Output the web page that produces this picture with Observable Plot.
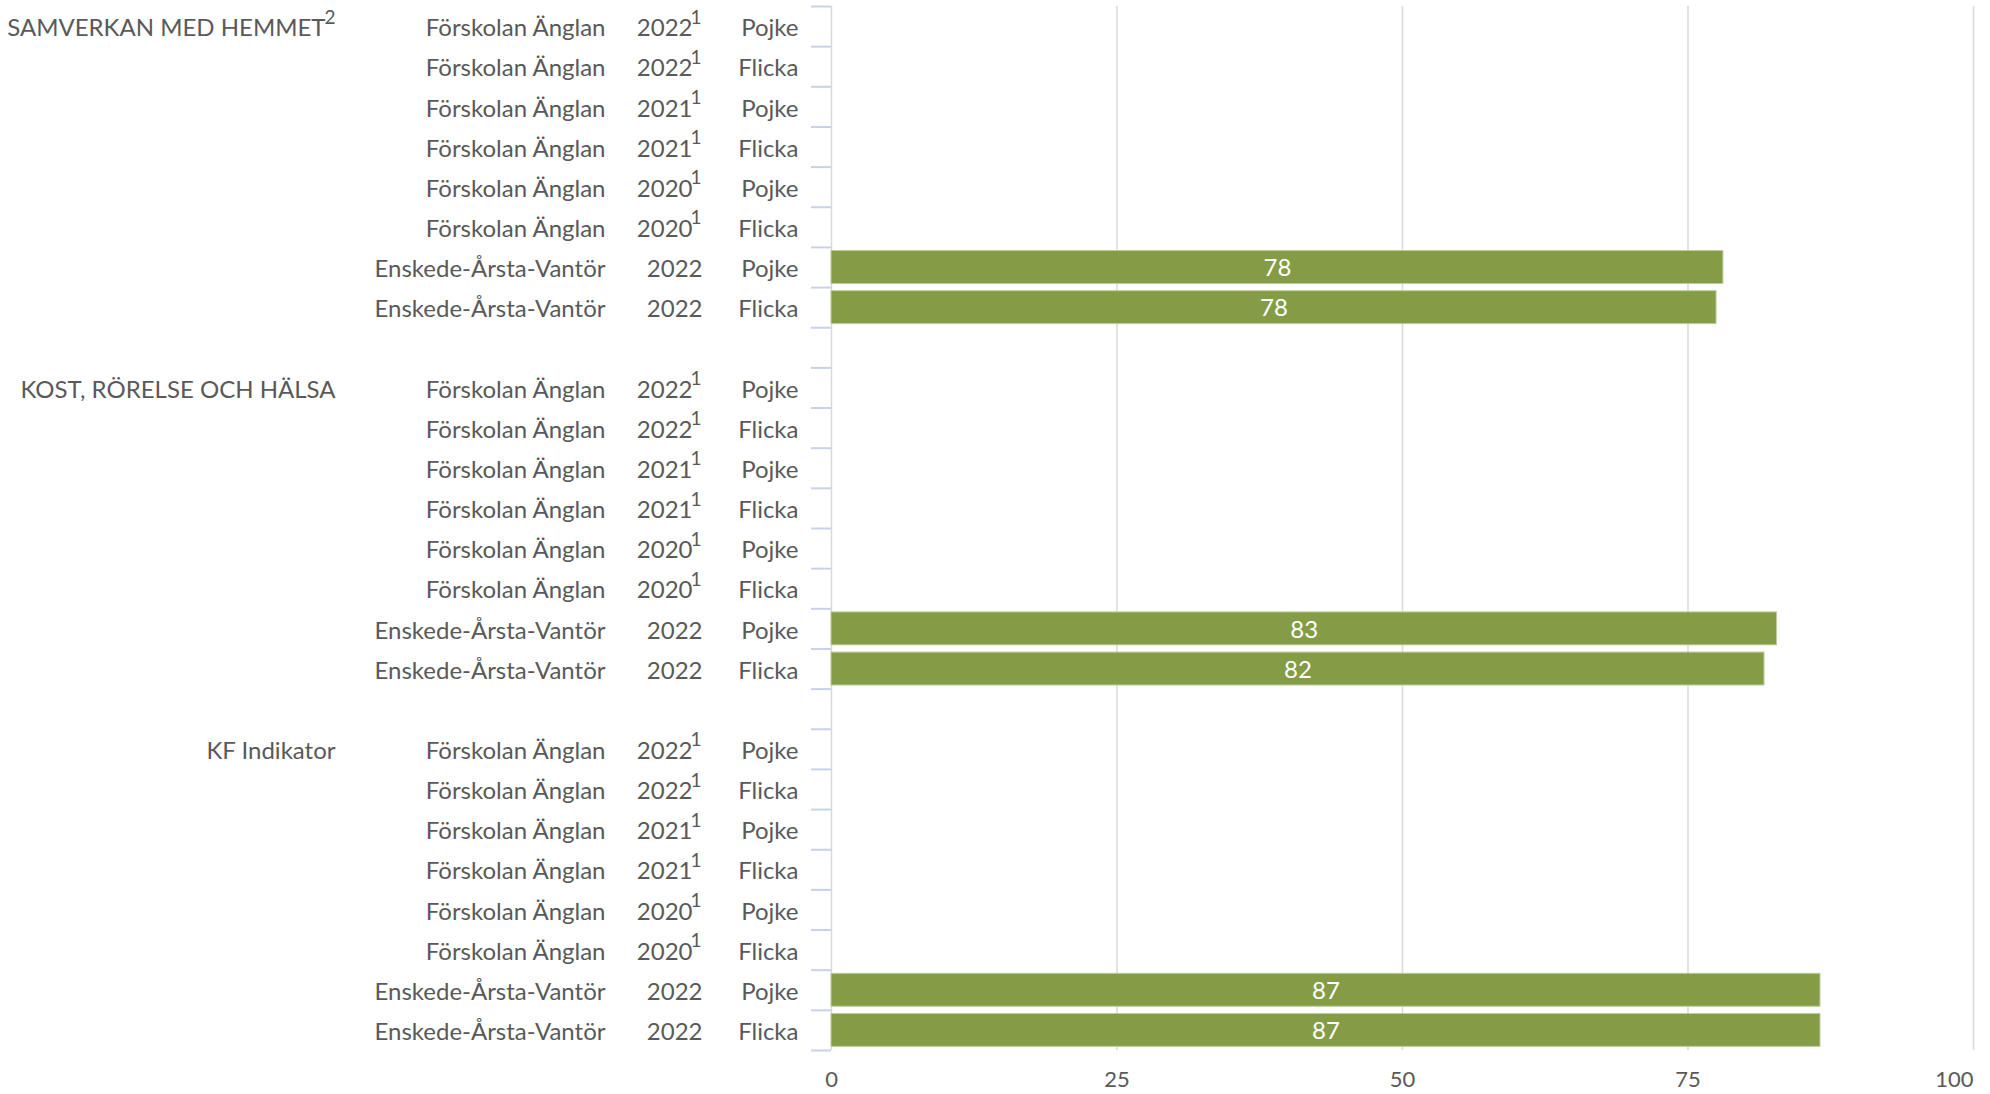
<!DOCTYPE html>
<html><head><meta charset="utf-8">
<script src="https://cdn.jsdelivr.net/npm/d3@7"></script>
<script src="https://cdn.jsdelivr.net/npm/@observablehq/plot@0.6"></script>
<style>html,body{margin:0;padding:0;background:#fff;overflow:hidden}</style>
</head><body><div id="chart"></div>
<script>
// ---- data ----
const groups = ["SAMVERKAN MED HEMMET", "KOST, RÖRELSE OCH HÄLSA", "KF Indikator"];
const groupNotes = ["2", "", ""];
const units = ["Förskolan Änglan", "Förskolan Änglan", "Förskolan Änglan", "Förskolan Änglan",
               "Förskolan Änglan", "Förskolan Änglan", "Enskede-Årsta-Vantör", "Enskede-Årsta-Vantör"];
const years = ["2022", "2022", "2021", "2021", "2020", "2020", "2022", "2022"];
const yearNotes = ["1", "1", "1", "1", "1", "1", "", ""];
const genders = ["Pojke", "Flicka", "Pojke", "Flicka", "Pojke", "Flicka", "Pojke", "Flicka"];
const samverkanValues = [null, null, null, null, null, null, 78.1, 77.5];
const kostValues      = [null, null, null, null, null, null, 82.8, 81.7];
const kfValues        = [null, null, null, null, null, null, 86.6, 86.6];
const xTicks = [0, 25, 50, 75, 100];

// ---- table ----
const seriesByGroup = [samverkanValues, kostValues, kfValues];
const perGroup = units.length;
const rows = [];
seriesByGroup.forEach((vals, g) => vals.forEach((v, r) => rows.push({
  group: groups[g], groupNote: groupNotes[g], unit: units[r], year: years[r], yearNote: yearNotes[r],
  gender: genders[r], value: v, pos: g * (perGroup + 1) + r, first: r === 0
})));
const bars = rows.filter(d => d.value != null);
const positions = rows.map(d => d.pos);
const notedYears = rows.filter(d => d.yearNote).map(d => d.pos);
const plainYears = rows.filter(d => !d.yearNote).map(d => d.pos);
const notedGroups = rows.filter(d => d.first && d.groupNote).map(d => d.pos);
const plainGroups = rows.filter(d => d.first && !d.groupNote).map(d => d.pos);
const boundaries = [];
groups.forEach((_, g) => {
  for (let r = 0; r <= perGroup; r++) boundaries.push(g * (perGroup + 1) + r - 0.5);
});
const lookup = key => { const m = new Map(rows.map(d => [d.pos, d[key]])); return p => m.get(p); };

const textColor = "#595959";
const fs = 24;
const lab = (ticks, pad, key, extra = {}) => Plot.axisY(ticks, Object.assign({
  anchor: "left", tickSize: 0, tickPadding: pad, tickFormat: lookup(key),
  fontSize: fs, fill: textColor, dy: 2, label: null
}, extra));

const chart = Plot.plot({
  width: 1990, height: 1094,
  marginLeft: 831, marginRight: 17, marginTop: 6, marginBottom: 44,
  x: {domain: [0, 100], axis: null},
  y: {domain: [-0.5, 25.5], reverse: true, axis: null},
  style: {fontFamily: "Lato, sans-serif", fontSize: "24px", color: textColor, background: "white", overflow: "visible"},
  marks: [
    Plot.ruleX(xTicks.filter(t => t > 0), {stroke: "#d9d9d9", strokeWidth: 1.5}),
    Plot.ruleX([0], {stroke: "#d9d9d9", strokeWidth: 1.5}),
    Plot.axisY(boundaries, {anchor: "left", tickSize: 20, tickFormat: () => "", label: null, stroke: "#c7d2e8", strokeWidth: 2}),
    lab(positions, 33, "gender"),
    lab(plainYears, 129, "year"),
    lab(notedYears, 139, "year"),
    lab(notedYears, 130, "yearNote", {fontSize: 19, dy: -9}),
    lab(positions, 226, "unit"),
    lab(plainGroups, 496, "group"),
    lab(notedGroups, 506, "group"),
    lab(notedGroups, 496, "groupNote", {fontSize: 19, dy: -9}),
    Plot.rectX(bars, {x1: 0, x2: "value", y1: d => d.pos - 0.41, y2: d => d.pos + 0.41,
      fill: "#849c45", stroke: "#bccd9c", strokeWidth: 1}),
    Plot.text(bars, {x: d => d.value / 2, y: "pos", text: d => String(Math.round(d.value)),
      fill: "white", fontSize: fs, dy: 1}),
    Plot.axisX(xTicks.filter(t => t < 100), {anchor: "bottom", tickSize: 0, tickPadding: 21, fontSize: 22, fill: textColor, label: null}),
    Plot.axisX(xTicks.filter(t => t === 100), {anchor: "bottom", tickSize: 0, tickPadding: 21, fontSize: 22, fill: textColor, label: null, textAnchor: "end"})
  ]
});
document.getElementById("chart").appendChild(chart);
</script>
</body></html>
